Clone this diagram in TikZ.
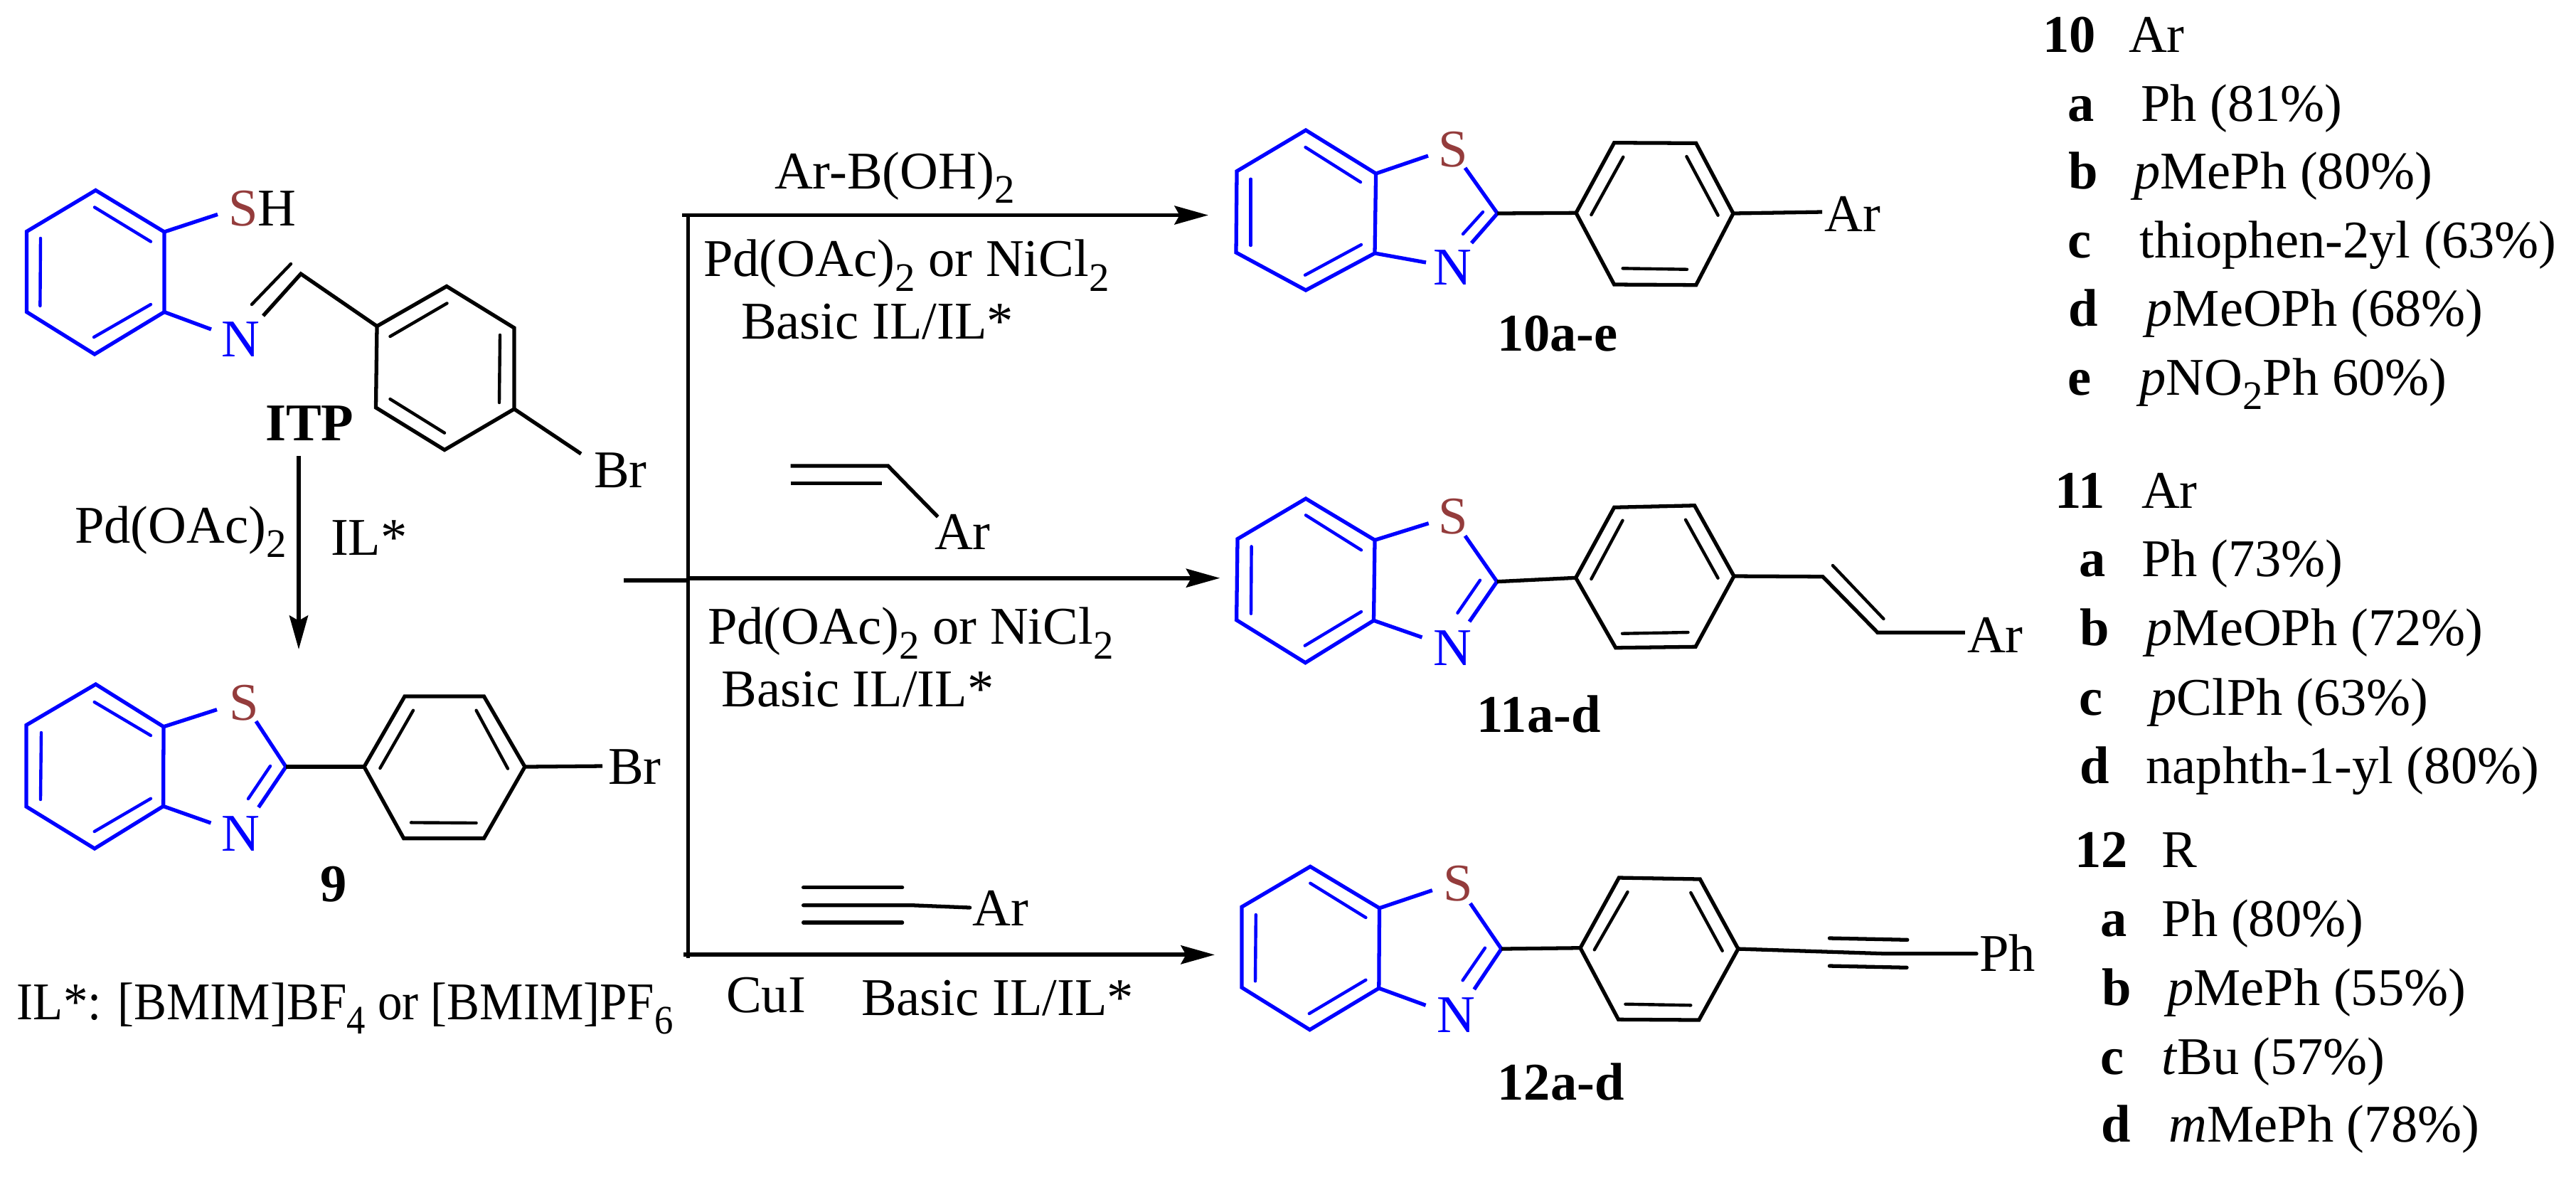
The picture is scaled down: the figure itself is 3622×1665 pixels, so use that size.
\documentclass[tikz,border=0pt]{standalone}
\usepackage{fontspec}
\usepackage{graphicx}
\setmainfont{Liberation Serif}
\usetikzlibrary{arrows.meta}
\definecolor{sulf}{HTML}{943C3C}
\newcommand{\sub}[1]{\raisebox{-0.28em}{\fontsize{16.2}{18}\selectfont #1}}
\tikzset{
  txt/.style={anchor=base west,inner sep=0pt,outer sep=0pt,font=\fontsize{21.2}{26}\selectfont},
  bld/.style={txt,font=\fontsize{21.2}{26}\selectfont\bfseries},
  blu/.style={txt,text=blue},
  sul/.style={txt,text=sulf},
  bb/.style={draw=blue,line width=1.5pt,line join=miter},
  bi/.style={draw=blue,line width=1.25pt,line cap=round},
  kb/.style={draw=black,line width=1.5pt,line join=miter},
  ki/.style={draw=black,line width=1.25pt,line cap=round},
  rail/.style={draw=black,line width=1.65pt},
  arr/.style={rail,-{Stealth[length=13.5pt,width=7.4pt,inset=2pt]}},
}
\begin{document}
\begin{tikzpicture}[x=0.01cm,y=-0.01cm]
\useasboundingbox (0,0) rectangle (3622,1665);

% ---------- ITP
\path coordinate (a1) at (134.5,267.5) coordinate (a2) at (231,326) coordinate (a3) at (231,438.6)
      coordinate (a4) at (133,498) coordinate (a5) at (37.6,438.6) coordinate (a6) at (37.6,325.4)
      coordinate (ai1) at (133,291.4) coordinate (ai2) at (212,339.6)
      coordinate (ai3) at (57,335) coordinate (ai4) at (56.4,430)
      coordinate (ai5) at (132,474) coordinate (ai6) at (212,428)
      coordinate (as) at (306,301.4) coordinate (an) at (297,463)
      coordinate (ac) at (423,385) coordinate (ane) at (370,444)
      coordinate (aci) at (409,371) coordinate (ani) at (354,428)
      coordinate (b1) at (530,458.6) coordinate (b2) at (628,402.5) coordinate (b3) at (723,461)
      coordinate (b4) at (723,575) coordinate (b5) at (625,632.5) coordinate (b6) at (528.5,573)
      coordinate (bi1) at (548.5,473) coordinate (bi2) at (628.5,426.4)
      coordinate (bi3) at (703,471) coordinate (bi4) at (702,566)
      coordinate (bi5) at (548.5,561) coordinate (bi6) at (625,608.6)
      coordinate (bbr) at (817,638);
\draw[bb] (a1)--(a2)--(a3)--(a4)--(a5)--(a6)--cycle;
\draw[bi] (ai1)--(ai2); \draw[bi] (ai3)--(ai4); \draw[bi] (ai5)--(ai6);
\draw[bb] (a2)--(as); \draw[bb] (a3)--(an);
\draw[kb] (ane)--(ac)--(b1); \draw[ki] (aci)--(ani);
\draw[kb] (b1)--(b2)--(b3)--(b4)--(b5)--(b6)--cycle;
\draw[ki] (bi1)--(bi2); \draw[ki] (bi3)--(bi4); \draw[ki] (bi5)--(bi6);
\draw[kb] (b4)--(bbr);
\node[sul] (ts1) at (321,317) {S};
\node[txt] (th1) at (ts1.base east) {H};
\node[blu] (tn1) at (311,501) {N};
\node[txt] (tbr1) at (835,685) {Br};
\node[bld] (titp) at (373,619) {ITP};

% ---------- step ITP -> 9
\path coordinate (ds) at (420,641) coordinate (de) at (420,913);
\draw[arr] (ds)--(de);
\node[txt] (tpd0) at (105,763) {Pd(OAc)\sub{2}};
\node[txt] (til0) at (465,780) {IL*};

% ---------- 9
\path coordinate (c1) at (134.6,962) coordinate (c2) at (230,1021.7) coordinate (c3) at (229.6,1133.4)
      coordinate (c4) at (133,1193) coordinate (c5) at (37,1134) coordinate (c6) at (37,1019.4)
      coordinate (ci1) at (132.7,987) coordinate (ci2) at (212,1034)
      coordinate (ci3) at (58,1030) coordinate (ci4) at (57,1124)
      coordinate (ci5) at (132.7,1169) coordinate (ci6) at (212,1122.7)
      coordinate (cs) at (305,997.6) coordinate (csc) at (360,1014) coordinate (cc) at (402,1078)
      coordinate (cne) at (363.5,1135) coordinate (cci) at (380,1077) coordinate (cni) at (349,1123)
      coordinate (cn) at (296.5,1157)
      coordinate (d1) at (512,1078) coordinate (d2) at (569,979) coordinate (d3) at (680.5,979)
      coordinate (d4) at (738,1078) coordinate (d5) at (680.5,1178.6) coordinate (d6) at (567.6,1178.6)
      coordinate (di1) at (581,998.7) coordinate (di2) at (534.4,1080)
      coordinate (di3) at (669.6,998.7) coordinate (di4) at (714,1080.6)
      coordinate (di5) at (578,1156.4) coordinate (di6) at (669.6,1157)
      coordinate (dbr) at (847,1077);
\draw[bb] (c1)--(c2)--(c3)--(c4)--(c5)--(c6)--cycle;
\draw[bi] (ci1)--(ci2); \draw[bi] (ci3)--(ci4); \draw[bi] (ci5)--(ci6);
\draw[bb] (c2)--(cs); \draw[bb] (c3)--(cn);
\draw[bb] (csc)--(cc)--(cne); \draw[bi] (cci)--(cni);
\draw[kb] (cc)--(d1);
\draw[kb] (d1)--(d2)--(d3)--(d4)--(d5)--(d6)--cycle;
\draw[ki] (di1)--(di2); \draw[ki] (di3)--(di4); \draw[ki] (di5)--(di6);
\draw[kb] (d4)--(dbr);
\node[sul] (ts2) at (322,1012) {S};
\node[blu] (tn2) at (311,1196) {N};
\node[txt] (tbr2) at (855,1102) {Br};
\node[bld] (t9) at (450,1267) {9};
\node[txt] (til) at (24,1433) {\scalebox{0.925}[1]{IL*: [BMIM]BF\sub{4} or [BMIM]PF\sub{6}}};

% ---------- branching arrows
\path coordinate (v1) at (967.5,300) coordinate (v2) at (967.5,1347)
      coordinate (t0) at (959,302.5) coordinate (t1) at (1699,302.5)
      coordinate (m0) at (877,815.7) coordinate (mv) at (967.5,815.7)
      coordinate (mv2) at (967.5,812.7) coordinate (m1) at (1715.4,812.7)
      coordinate (u0) at (960.6,1342.3) coordinate (u1) at (1708,1342.3);
\draw[rail] (v1)--(v2);
\draw[arr] (t0)--(t1);
\draw[rail] (m0)--(mv);
\draw[arr] (mv2)--(m1);
\draw[arr] (u0)--(u1);

\node[txt] (r1a) at (1089,265) {Ar-B(OH)\sub{2}};
\node[txt] (r1b) at (989,388.5) {Pd(OAc)\sub{2} or NiCl\sub{2}};
\node[txt] (r1c) at (1042,476.5) {Basic IL/IL*};

\path coordinate (e1) at (1111.5,655) coordinate (e2) at (1248.6,655) coordinate (e3) at (1318.7,726.7)
      coordinate (e4) at (1111.5,679.3) coordinate (e5) at (1240,679.3);
\draw[kb] (e1)--(e2)--(e3); \draw[kb] (e4)--(e5);
\node[txt] (r2a) at (1314,772.7) {Ar};
\node[txt] (r2b) at (995,905.7) {Pd(OAc)\sub{2} or NiCl\sub{2}};
\node[txt] (r2c) at (1014.5,993.3) {Basic IL/IL*};

\path coordinate (f1) at (1129.6,1247.7) coordinate (f2) at (1268.6,1247.7)
      coordinate (f3) at (1129.6,1272.7) coordinate (f4) at (1282.6,1272.7) coordinate (f5) at (1363.6,1276)
      coordinate (f6) at (1129.6,1297) coordinate (f7) at (1268.6,1297);
\draw[kb,line cap=round] (f1)--(f2); \draw[kb,line cap=round] (f3)--(f4)--(f5); \draw[kb,line cap=round] (f6)--(f7);
\node[txt] (r3a) at (1367.5,1301.7) {Ar};
\node[txt] (r3b) at (1021,1423) {CuI};
\node[txt] (r3c) at (1211,1427.7) {Basic IL/IL*};

% ---------- 10
\path coordinate (g1) at (1836,183) coordinate (g2) at (1934.6,244) coordinate (g3) at (1933,356)
      coordinate (g4) at (1836,408) coordinate (g5) at (1738,355) coordinate (g6) at (1739,240.7)
      coordinate (gi1) at (1835.5,207) coordinate (gi2) at (1913,256)
      coordinate (gi3) at (1758.5,251.7) coordinate (gi4) at (1758.5,345)
      coordinate (gi5) at (1835,386.7) coordinate (gi6) at (1914,344)
      coordinate (gs) at (2008,219) coordinate (gsc) at (2060,236) coordinate (gc) at (2105.4,300)
      coordinate (gne) at (2069,341.7) coordinate (gci) at (2085,298) coordinate (gni) at (2057,329)
      coordinate (gn) at (2005,369)
      coordinate (h1) at (2216,299.3) coordinate (h2) at (2269.6,200.7) coordinate (h3) at (2384.7,201.3)
      coordinate (h4) at (2437,300) coordinate (h5) at (2384.7,400.7) coordinate (h6) at (2269.6,400)
      coordinate (hi1) at (2282.3,220.7) coordinate (hi2) at (2237.4,302)
      coordinate (hi3) at (2371.4,220) coordinate (hi4) at (2415.6,302.7)
      coordinate (hi5) at (2281.6,377.3) coordinate (hi6) at (2372,378.7)
      coordinate (har) at (2562,298);
\draw[bb] (g1)--(g2)--(g3)--(g4)--(g5)--(g6)--cycle;
\draw[bi] (gi1)--(gi2); \draw[bi] (gi3)--(gi4); \draw[bi] (gi5)--(gi6);
\draw[bb] (g2)--(gs); \draw[bb] (g3)--(gn);
\draw[bb] (gsc)--(gc)--(gne); \draw[bi] (gci)--(gni);
\draw[kb] (gc)--(h1);
\draw[kb] (h1)--(h2)--(h3)--(h4)--(h5)--(h6)--cycle;
\draw[ki] (hi1)--(hi2); \draw[ki] (hi3)--(hi4); \draw[ki] (hi5)--(hi6);
\draw[kb] (h4)--(har);
\node[sul] (ts3) at (2022,234) {S};
\node[blu] (tn3) at (2015,400) {N};
\node[txt] (tar3) at (2565.6,325) {Ar};
\node[bld] (t10) at (2105,493) {10a-e};

% ---------- 11
\path coordinate (j1) at (1836,701) coordinate (j2) at (1933,759.3) coordinate (j3) at (1931.5,872.3)
      coordinate (j4) at (1835.4,931.7) coordinate (j5) at (1738.6,871.7) coordinate (j6) at (1740,757.7)
      coordinate (ji1) at (1836,724.3) coordinate (ji2) at (1914,773.3)
      coordinate (ji3) at (1759.6,768.3) coordinate (ji4) at (1759,862.7)
      coordinate (ji5) at (1834.7,907.7) coordinate (ji6) at (1914,860)
      coordinate (js) at (2008.7,735.7) coordinate (jsc) at (2060,753.3) coordinate (jc) at (2104.8,817.7)
      coordinate (jne) at (2066,874) coordinate (jci) at (2081,815.7) coordinate (jni) at (2049.4,861.7)
      coordinate (jn) at (1999.5,896)
      coordinate (k1) at (2215.6,812.3) coordinate (k2) at (2269.6,713.3) coordinate (k3) at (2382.6,710.7)
      coordinate (k4) at (2438,810) coordinate (k5) at (2384,909.3) coordinate (k6) at (2271.7,910.7)
      coordinate (ki1) at (2281.5,731.7) coordinate (ki2) at (2237.4,814)
      coordinate (ki3) at (2370,730.7) coordinate (ki4) at (2415.5,812.7)
      coordinate (ki5) at (2281,890.7) coordinate (ki6) at (2373.5,889)
      coordinate (kv1) at (2562.9,810.7) coordinate (kv2) at (2640,889.3) coordinate (kv3) at (2762.8,889.3)
      coordinate (kv4) at (2576.9,795) coordinate (kv5) at (2648.4,870);
\draw[bb] (j1)--(j2)--(j3)--(j4)--(j5)--(j6)--cycle;
\draw[bi] (ji1)--(ji2); \draw[bi] (ji3)--(ji4); \draw[bi] (ji5)--(ji6);
\draw[bb] (j2)--(js); \draw[bb] (j3)--(jn);
\draw[bb] (jsc)--(jc)--(jne); \draw[bi] (jci)--(jni);
\draw[kb] (jc)--(k1);
\draw[kb] (k1)--(k2)--(k3)--(k4)--(k5)--(k6)--cycle;
\draw[ki] (ki1)--(ki2); \draw[ki] (ki3)--(ki4); \draw[ki] (ki5)--(ki6);
\draw[kb] (k4)--(kv1)--(kv2)--(kv3); \draw[ki] (kv4)--(kv5);
\node[sul] (ts4) at (2022.7,750) {S};
\node[blu] (tn4) at (2015.7,935) {N};
\node[txt] (tar4) at (2766,917) {Ar};
\node[bld] (t11) at (2076.7,1029) {11a-d};

% ---------- 12
\path coordinate (l1) at (1842.3,1218.3) coordinate (l2) at (1939.5,1276.7) coordinate (l3) at (1938.8,1389.3)
      coordinate (l4) at (1841.6,1447.7) coordinate (l5) at (1746,1388.3) coordinate (l6) at (1746,1275)
      coordinate (li1) at (1842.3,1241.7) coordinate (li2) at (1920.4,1290)
      coordinate (li3) at (1765.8,1286) coordinate (li4) at (1765,1379.3)
      coordinate (li5) at (1840.8,1425) coordinate (li6) at (1920.4,1377.7)
      coordinate (ls) at (2013.8,1251.7) coordinate (lsc) at (2067.3,1270) coordinate (lc) at (2111,1334)
      coordinate (lne) at (2072.7,1391) coordinate (lci) at (2088,1332.7) coordinate (lni) at (2056.6,1378.3)
      coordinate (ln) at (2004.6,1413.3)
      coordinate (o1) at (2222,1332.7) coordinate (o2) at (2276.3,1234) coordinate (o3) at (2390.3,1236)
      coordinate (o4) at (2443.9,1334) coordinate (o5) at (2388.8,1434) coordinate (o6) at (2275.5,1433.3)
      coordinate (oi1) at (2288.5,1254) coordinate (oi2) at (2241.8,1335.3)
      coordinate (oi3) at (2377.3,1255) coordinate (oi4) at (2421.7,1336.7)
      coordinate (oi5) at (2285.4,1411.7) coordinate (oi6) at (2377.3,1413.3)
      coordinate (oa1) at (2649,1340.7) coordinate (oa2) at (2779,1340.7)
      coordinate (oa3) at (2572.4,1319) coordinate (oa4) at (2681.8,1321.3)
      coordinate (oa5) at (2572.4,1358) coordinate (oa6) at (2681,1360.3);
\draw[bb] (l1)--(l2)--(l3)--(l4)--(l5)--(l6)--cycle;
\draw[bi] (li1)--(li2); \draw[bi] (li3)--(li4); \draw[bi] (li5)--(li6);
\draw[bb] (l2)--(ls); \draw[bb] (l3)--(ln);
\draw[bb] (lsc)--(lc)--(lne); \draw[bi] (lci)--(lni);
\draw[kb] (lc)--(o1);
\draw[kb] (o1)--(o2)--(o3)--(o4)--(o5)--(o6)--cycle;
\draw[ki] (oi1)--(oi2); \draw[ki] (oi3)--(oi4); \draw[ki] (oi5)--(oi6);
\draw[kb,line cap=round] (o4)--(oa1)--(oa2);
\draw[kb,line cap=round] (oa3)--(oa4); \draw[kb,line cap=round] (oa5)--(oa6);
\node[sul] (ts5) at (2029,1266.7) {S};
\node[blu] (tn5) at (2020,1451.7) {N};
\node[txt] (tph5) at (2783,1365.7) {Ph};
\node[bld] (t12) at (2105.6,1546) {12a-d};

% ---------- right-hand tables
\node[bld] (q10) at (2872,73) {10};       \node[txt] (q10h) at (2993,73) {Ar};
\node[bld] (q10a) at (2907,170) {a};      \node[txt] (q10at) at (3010,170) {Ph (81\%)};
\node[bld] (q10b) at (2908,265.6) {b};    \node[txt] (q10bt) at (3000,265.6) {\textit{p}MePh (80\%)};
\node[bld] (q10c) at (2907,362.6) {c};    \node[txt] (q10ct) at (3008.5,362.6) {thiophen-2yl (63\%)};
\node[bld] (q10d) at (2908,458.8) {d};    \node[txt] (q10dt) at (3017.4,458.8) {\textit{p}MeOPh (68\%)};
\node[bld] (q10e) at (2907,555) {e};      \node[txt] (q10et) at (3008.5,555) {\textit{p}NO\sub{2}Ph 60\%)};

\node[bld] (q11) at (2889.4,714.3) {11};  \node[txt] (q11h) at (3011,714.3) {Ar};
\node[bld] (q11a) at (2923.9,810.7) {a};  \node[txt] (q11at) at (3011,810.7) {Ph (73\%)};
\node[bld] (q11b) at (2924.8,907.8) {b};  \node[txt] (q11bt) at (3017.4,907.8) {\textit{p}MeOPh (72\%)};
\node[bld] (q11c) at (2923.9,1005.3) {c}; \node[txt] (q11ct) at (3023.3,1005.3) {\textit{p}ClPh (63\%)};
\node[bld] (q11d) at (2924.8,1101.7) {d}; \node[txt] (q11dt) at (3017.4,1101.7) {naphth-1-yl (80\%)};

\node[bld] (q12) at (2917.5,1219.8) {12}; \node[txt] (q12h) at (3039.6,1219.8) {R};
\node[bld] (q12a) at (2953.4,1316.4) {a}; \node[txt] (q12at) at (3039.6,1316.4) {Ph (80\%)};
\node[bld] (q12b) at (2955.9,1413) {b};   \node[txt] (q12bt) at (3047,1413) {\textit{p}MePh (55\%)};
\node[bld] (q12c) at (2953.4,1510) {c};   \node[txt] (q12ct) at (3039.6,1510) {\textit{t}Bu (57\%)};
\node[bld] (q12d) at (2954.9,1605.6) {d}; \node[txt] (q12dt) at (3049.4,1605.6) {\textit{m}MePh (78\%)};
\end{tikzpicture}
\end{document}
